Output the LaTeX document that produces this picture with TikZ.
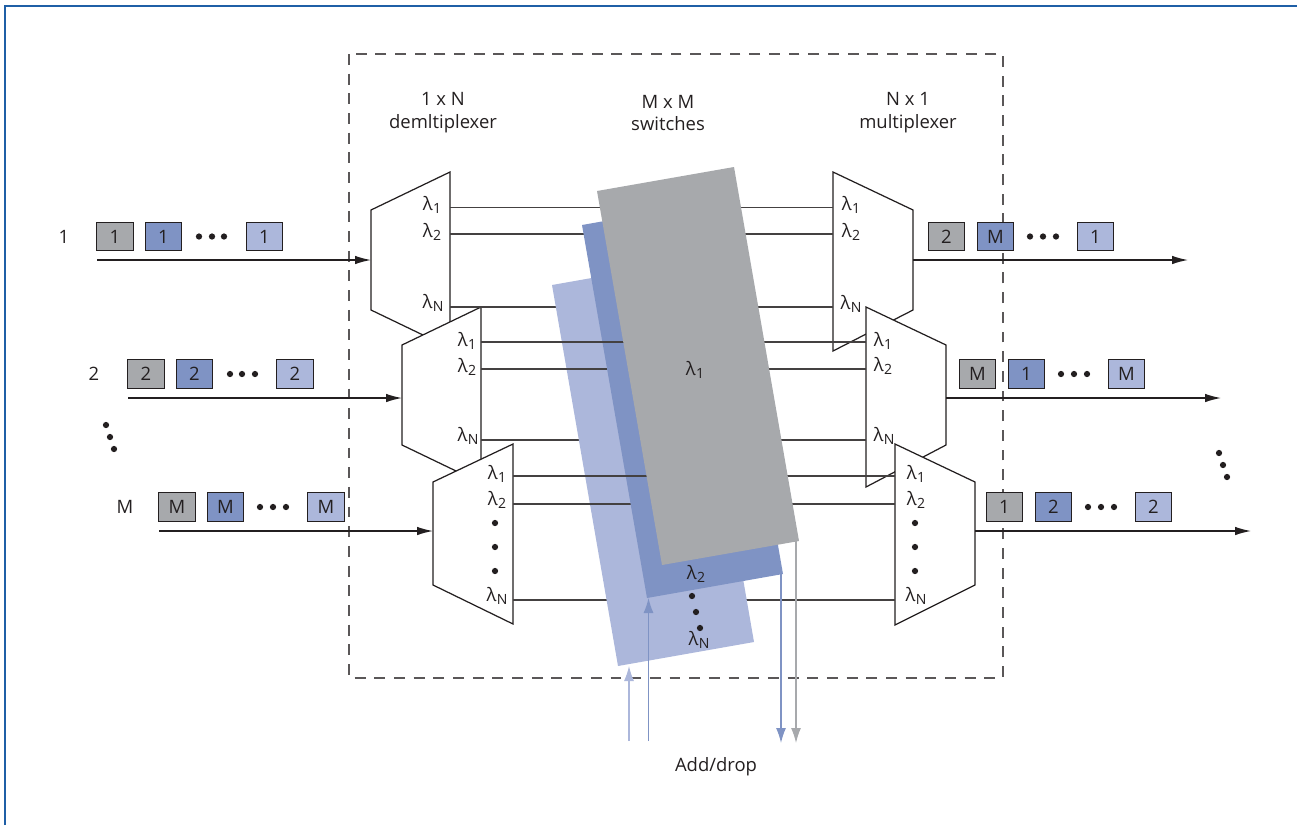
\documentclass[tikz,border=0pt]{standalone}
\usepackage{fontspec}
\usepackage{xcolor}
\setmainfont{Open Sans}
\usetikzlibrary{arrows.meta}
\definecolor{inkdark}{HTML}{231F20}
\definecolor{framblue}{HTML}{1F5FA6}
\definecolor{waveone}{HTML}{A7A9AC}
\definecolor{wavetwo}{HTML}{7F93C4}
\definecolor{wavelast}{HTML}{ACB7DB}
\newcommand{\lam}[1]{λ\kern0.2pt\raisebox{-0.3ex}{\footnotesize #1}}

\begin{document}
\begin{tikzpicture}[
  x=0.02cm,y=-0.02cm,line width=0.7pt,inkdark,font=\fontsize{10.5}{12}\selectfont,
  unit/.style={draw=inkdark,fill=white,line join=miter},
  link/.style={draw=inkdark!85},
  signal/.style={draw=inkdark,-{Latex[length=0.32cm,width=0.17cm]}},
  addline/.style={-{Latex[length=0.3cm,width=0.2cm]}},
  packet/.style={draw=inkdark,minimum width=0.73cm,minimum height=0.57cm,inner sep=0pt,text=inkdark},
  pone/.style={packet,fill=waveone},
  ptwo/.style={packet,fill=wavetwo},
  plast/.style={packet,fill=wavelast},
  dotmark/.style={circle,fill=inkdark,minimum size=0.125cm,inner sep=0pt},
  tag/.style={inner sep=0pt,text=inkdark}
]
  \useasboundingbox (0,0) rectangle (1297,825);
  \draw[framblue,line width=1.7pt] (5,825) -- (5,6) -- (1297,6);
  \draw[inkdark!75,dash pattern=on 6.2pt off 5pt] (349,54) rectangle (1003,678);

  % demultiplexers and multiplexers
  \draw[unit] (371,210) -- (450,172) -- (450,348) -- (371,310) -- cycle;
  \draw[unit] (402,345) -- (481,307) -- (481,483) -- (402,445) -- cycle;
  \draw[unit] (433,482) -- (513,444) -- (513,624) -- (433,585) -- cycle;
  \draw[unit] (833,172) -- (913,210) -- (913,310) -- (833,351) -- cycle;
  \draw[unit] (866,307) -- (946,345) -- (946,445) -- (866,487) -- cycle;
  \draw[unit] (895,444) -- (975,482) -- (975,585) -- (895,625) -- cycle;

  % ports
  \coordinate (dm1a) at (450,207.5); \coordinate (dm1b) at (450,234); \coordinate (dm1n) at (450,307);
  \coordinate (dm2a) at (481,342);   \coordinate (dm2b) at (481,369); \coordinate (dm2n) at (481,440);
  \coordinate (dm3a) at (513,476);   \coordinate (dm3b) at (513,504); \coordinate (dm3n) at (513,600);
  \coordinate (mx1a) at (833,207.5); \coordinate (mx1b) at (833,234); \coordinate (mx1n) at (833,307);
  \coordinate (mx2a) at (866,342);   \coordinate (mx2b) at (866,369); \coordinate (mx2n) at (866,440);
  \coordinate (mx3a) at (895,476);   \coordinate (mx3b) at (895,504); \coordinate (mx3n) at (895,600);
  \coordinate (in1) at (97,260);   \coordinate (dm1in) at (371,260);
  \coordinate (in2) at (128,398);  \coordinate (dm2in) at (402,398);
  \coordinate (in3) at (159,531);  \coordinate (dm3in) at (433,531);
  \coordinate (mx1out) at (913,260); \coordinate (out1) at (1188,260);
  \coordinate (mx2out) at (946,398); \coordinate (out2) at (1221,398);
  \coordinate (mx3out) at (975,531); \coordinate (out3) at (1251,531);

  % switch planes, each one hides the links of the plane below
  \draw[link] (dm1n) -- (mx1n);
  \draw[link] (dm2n) -- (mx2n);
  \draw[link] (dm3n) -- (mx3n);
  \fill[wavelast] (552,285) -- (688,261) -- (754,642) -- (618,666) -- cycle;
  \draw[link] (dm1b) -- (mx1b);
  \draw[link] (dm2b) -- (mx2b);
  \draw[link] (dm3b) -- (mx3b);
  \fill[wavetwo] (582,225) -- (718,201) -- (783,574) -- (647,598) -- cycle;
  \draw[link] (dm1a) -- (mx1a);
  \draw[link] (dm2a) -- (mx2a);
  \draw[link] (dm3a) -- (mx3a);
  \fill[waveone] (597,191) -- (734,167) -- (799,541) -- (662,565) -- cycle;

  % fibres in and out
  \draw[signal] (in1) -- (dm1in);
  \draw[signal] (in2) -- (dm2in);
  \draw[signal] (in3) -- (dm3in);
  \draw[signal] (mx1out) -- (out1);
  \draw[signal] (mx2out) -- (out2);
  \draw[signal] (mx3out) -- (out3);

  % add/drop
  \coordinate (addl0) at (629,741);  \coordinate (addl1) at (629,666);
  \coordinate (addb0) at (648.5,741); \coordinate (addb1) at (648.5,598);
  \coordinate (dropb0) at (781,574); \coordinate (dropb1) at (781,743);
  \coordinate (dropg0) at (796,541); \coordinate (dropg1) at (796,743);
  \draw[addline,wavelast] (addl0) -- (addl1);
  \draw[addline,wavetwo] (addb0) -- (addb1);
  \draw[addline,wavetwo] (dropb0) -- (dropb1);
  \draw[addline,waveone] (dropg0) -- (dropg1);
  \node[tag] (adddrop) at (716,767) {Add/drop};

  % headings
  \node[tag,align=center] (dmhead) at (443,113) {1 x N\\[1pt]demltiplexer};
  \node[tag,align=center] (swhead) at (668,113) {M x M\\[1pt]switches};
  \node[tag,align=center] (mxhead) at (908,113) {N x 1\\[1pt]multiplexer};

  % wavelength labels
  \node[tag] (ld1a) at (432,205) {\lam{1}};
  \node[tag] (ld1b) at (432,232) {\lam{2}};
  \node[tag] (ld1n) at (433,303) {\lam{N}};
  \node[tag] (ld2a) at (467,341) {\lam{1}};
  \node[tag] (ld2b) at (467,367) {\lam{2}};
  \node[tag] (ld2n) at (468,436) {\lam{N}};
  \node[tag] (ld3a) at (497,474) {\lam{1}};
  \node[tag] (ld3b) at (497,500) {\lam{2}};
  \node[tag] (ld3n) at (497,596) {\lam{N}};
  \node[tag] (lm1a) at (851,205) {\lam{1}};
  \node[tag] (lm1b) at (851,232) {\lam{2}};
  \node[tag] (lm1n) at (851,304) {\lam{N}};
  \node[tag] (lm2a) at (883,341) {\lam{1}};
  \node[tag] (lm2b) at (883,366) {\lam{2}};
  \node[tag] (lm2n) at (884,436) {\lam{N}};
  \node[tag] (lm3a) at (916,474) {\lam{1}};
  \node[tag] (lm3b) at (916,500) {\lam{2}};
  \node[tag] (lm3n) at (916,596) {\lam{N}};
  \node[tag] (lsa) at (695,370) {\lam{1}};
  \node[tag] (lsb) at (696,574) {\lam{2}};
  \node[tag] (lsn) at (699,640) {\lam{N}};
  \node[dotmark] (dd1) at (495,523) {};
  \node[dotmark] (dd2) at (495,547) {};
  \node[dotmark] (dd3) at (495,571) {};
  \node[dotmark] (md1) at (915,523) {};
  \node[dotmark] (md2) at (915,547) {};
  \node[dotmark] (md3) at (915,571) {};
  \node[dotmark] (sd1) at (692,596) {};
  \node[dotmark] (sd2) at (696,612) {};
  \node[dotmark] (sd3) at (700,628) {};

  % input packets
  \node[tag] (rowa) at (64,237) {1};
  \node[pone] (pa1) at (115,236.5) {1};
  \node[ptwo] (pa2) at (163.5,236.5) {1};
  \node[dotmark] (ad1) at (199,236.5) {};
  \node[dotmark] (ad2) at (212,236.5) {};
  \node[dotmark] (ad3) at (224,236.5) {};
  \node[plast] (pa3) at (264.5,236.5) {1};
  \node[tag] (rowb) at (94,374) {2};
  \node[pone] (pb1) at (146,374) {2};
  \node[ptwo] (pb2) at (194.5,374) {2};
  \node[dotmark] (bd1) at (230,374) {};
  \node[dotmark] (bd2) at (242,374) {};
  \node[dotmark] (bd3) at (255,374) {};
  \node[plast] (pb3) at (295,374) {2};
  \node[tag] (rowm) at (125,507) {M};
  \node[pone] (pm1) at (177,507) {M};
  \node[ptwo] (pm2) at (225.5,507) {M};
  \node[dotmark] (cd1) at (260,507) {};
  \node[dotmark] (cd2) at (273,507) {};
  \node[dotmark] (cd3) at (286,507) {};
  \node[plast] (pm3) at (326,507) {M};
  \node[dotmark] (ld1) at (106,425) {};
  \node[dotmark] (ld2) at (110,437) {};
  \node[dotmark] (ld3) at (114,449) {};

  % output packets
  \node[pone] (qa1) at (946.5,236.5) {2};
  \node[ptwo] (qa2) at (995.5,236.5) {M};
  \node[dotmark] (od1) at (1030,236.5) {};
  \node[dotmark] (od2) at (1043,236.5) {};
  \node[dotmark] (od3) at (1056,236.5) {};
  \node[plast] (qa3) at (1095.5,236.5) {1};
  \node[pone] (qb1) at (977.5,374) {M};
  \node[ptwo] (qb2) at (1026.5,374) {1};
  \node[dotmark] (pd1) at (1061,374) {};
  \node[dotmark] (pd2) at (1074,374) {};
  \node[dotmark] (pd3) at (1087,374) {};
  \node[plast] (qb3) at (1126.5,374) {M};
  \node[pone] (qm1) at (1004.5,507) {1};
  \node[ptwo] (qm2) at (1053.5,507) {2};
  \node[dotmark] (rd1) at (1088,507) {};
  \node[dotmark] (rd2) at (1101,507) {};
  \node[dotmark] (rd3) at (1114,507) {};
  \node[plast] (qm3) at (1153.5,507) {2};
  \node[dotmark] (vd1) at (1219,453) {};
  \node[dotmark] (vd2) at (1223,465) {};
  \node[dotmark] (vd3) at (1227,477) {};
\end{tikzpicture}
\end{document}
